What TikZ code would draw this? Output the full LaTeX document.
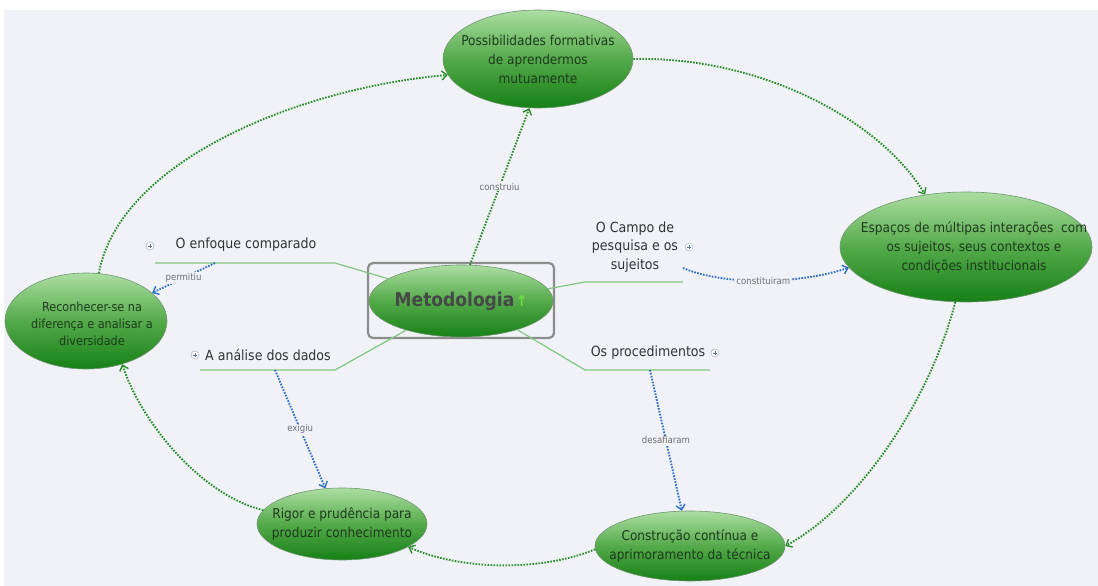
\documentclass[tikz,border=0pt]{standalone}
\usepackage{fontspec}
\setmainfont{DejaVu Sans Condensed}
\usepackage{xcolor}
\usepackage{tikz}
\usetikzlibrary{
  shapes.geometric,
  arrows.meta,
  positioning
}
\definecolor{PanelBg}{RGB}{240, 242, 248}
\definecolor{BubbleTop}{RGB}{172, 222, 162}
\definecolor{BubbleMid}{RGB}{84, 170, 74}
\definecolor{BubbleBottom}{RGB}{22, 128, 22}
\definecolor{BubbleEdge}{RGB}{112, 150, 112}
\definecolor{BubbleText}{RGB}{30, 58, 30}
\definecolor{MetoText}{RGB}{70, 72, 72}
\definecolor{TopicText}{RGB}{51, 51, 51}
\definecolor{BranchGreen}{RGB}{128, 200, 128}
\definecolor{LinkGreen}{RGB}{40, 140, 40}
\definecolor{LinkBlue}{RGB}{45, 110, 200}
\definecolor{LabelGray}{RGB}{110, 110, 110}
\definecolor{FrameGray}{RGB}{140, 140, 140}
\definecolor{IconGreen}{RGB}{110, 222, 60}
\definecolor{IconBlue}{RGB}{90, 110, 150}
\tikzset{
  bubble/.style={ellipse, draw=BubbleEdge, line width=0.6pt,
    top color=BubbleTop, bottom color=BubbleBottom, middle color=BubbleMid,
    inner sep=0pt},
  bubbletext/.style={align=center, text=BubbleText, inner sep=0pt,
    font=\fontsize{13.5}{19}\selectfont},
  metoframe/.style={draw=FrameGray, line width=2.2pt, rounded corners=5pt,
    minimum width=186pt, minimum height=75pt, inner sep=0pt},
  topic/.style={align=center, text=TopicText, inner sep=0pt,
    font=\fontsize{14}{18.5}\selectfont},
  expander/.style={circle, draw=IconBlue!60, fill=white, minimum size=8pt, inner sep=0pt,
    path picture={
      \draw[IconBlue, line width=0.7pt]
        ([xshift=-2.2pt]path picture bounding box.center) -- ([xshift=2.2pt]path picture bounding box.center)
        ([yshift=-2.2pt]path picture bounding box.center) -- ([yshift=2.2pt]path picture bounding box.center);
    }},
  branch/.style={draw=BranchGreen, line width=1.2pt},
  greenlink/.style={draw=LinkGreen, line width=1.9pt, dash pattern=on 1.6pt off 1.4pt,
    -{Straight Barb[length=5pt, width=9pt, line width=1.4pt]}},
  bluelink/.style={draw=LinkBlue, line width=1.9pt, dash pattern=on 1.6pt off 1.4pt,
    -{Straight Barb[length=5pt, width=9pt, line width=1.4pt]}},
  linklabel/.style={fill=PanelBg, text=LabelGray, inner sep=1pt,
    font=\fontsize{9.5}{11}\selectfont}
}

\begin{document}
\begin{tikzpicture}[x=1pt, y=-1pt]
  \fill[white] (0,0) rectangle (1098,586);
  \fill[PanelBg] (4,10) rectangle (1098,586);
  \useasboundingbox (0,0) rectangle (1098,586);

  \node[metoframe] (frame) at (461,300.5) {};
  \node[bubble, minimum width=184pt, minimum height=72pt] (meto) at (461,301) {};
  \node[inner sep=0pt] (metotext) at (meto)
    {\textcolor{MetoText}{\fontsize{19}{22}\selectfont\bfseries Metodologia}\,{\color{IconGreen}\fontsize{15}{15}\selectfont\bfseries ↑}};

  \node[bubble, minimum width=190pt, minimum height=98pt] (possib) at (538,59) {};
  \node[bubbletext] (possibtext) at (possib) {Possibilidades formativas\\de aprendermos\\mutuamente};
  \node[bubble, minimum width=252pt, minimum height=110pt] (espacos) at (966,247) {};
  \node[bubbletext] (espacostext) at ([xshift=8pt]espacos.center) {Espaços de múltipas interações~ com\\os sujeitos, seus contextos e\\condições institucionais};
  \node[bubble, minimum width=162pt, minimum height=96pt] (reconhecer) at (86,321) {};
  \node[bubbletext, font=\fontsize{12.5}{17}\selectfont] (reconhecertext) at ([xshift=6pt, yshift=-3pt]reconhecer.center) {Reconhecer-se na\\diferença e analisar a\\diversidade};
  \node[bubble, minimum width=170pt, minimum height=72pt] (rigor) at (342,524) {};
  \node[bubbletext] (rigortext) at (rigor) {Rigor e prudência para\\produzir conhecimento};
  \node[bubble, minimum width=190pt, minimum height=70pt] (construcao) at (690,546) {};
  \node[bubbletext] (construcaotext) at (construcao) {Construção contínua e\\aprimoramento da técnica};

  \node[topic] (enfoque) at (246,245) {O enfoque comparado};
  \node[expander] (enfoqueplus) at (150,246) {};
  \node[topic] (analise) at (268,355) {A análise dos dados};
  \node[expander] (analiseplus) at (195,355) {};
  \node[topic] (campo) at (635,247) {O Campo de\\pesquisa e os\\sujeitos};
  \node[expander] (campoplus) at (689,247) {};
  \node[topic] (proced) at (648,353) {Os procedimentos};
  \node[expander] (procedplus) at (715,353) {};

  \coordinate (enfoqueR) at (335,263);
  \coordinate (enfoqueL) at (155,263);
  \coordinate (analiseR) at (335,370);
  \coordinate (analiseL) at (200,370);
  \coordinate (campoL) at (585,282);
  \coordinate (campoR) at (683,282);
  \coordinate (procedL) at (585,370);
  \coordinate (procedR) at (710,370);
  \draw[branch] (meto.163) -- (enfoqueR) -- (enfoqueL);
  \draw[branch] (meto.208) -- (analiseR) -- (analiseL);
  \draw[branch] (meto.8) -- (campoL) -- (campoR);
  \draw[branch] (meto.333) -- (procedL) -- (procedR);

  \coordinate (enfoqueTap) at (215,263);
  \coordinate (analiseTap) at (275,370);
  \coordinate (campoTap) at (683,268);
  \coordinate (procedTap) at (650,370);
  \draw[bluelink] (enfoqueTap) -- node[linklabel] {permitiu} (reconhecer.23);
  \draw[bluelink] (campoTap) .. controls (725,286) and (800,284) .. node[linklabel] {constituiram} (espacos.190);
  \draw[bluelink] (analiseTap) -- node[linklabel] {exigiu} (rigor.115);
  \draw[bluelink] (procedTap) -- node[linklabel] {desafiaram} (construcao.103);

  \draw[greenlink] (meto.76) -- node[linklabel] {construiu} (possib.260);
  \draw[greenlink] (possib.east) .. controls (760,56) and (880,120) .. (espacos.128);
  \draw[greenlink] (espacos.259) .. controls (930,400) and (860,505) .. (construcao.east);
  \draw[greenlink] (construcao.182) .. controls (540,572) and (460,570) .. (rigor.-19);
  \draw[greenlink] (rigor.170) .. controls (200,495) and (140,420) .. (reconhecer.-50);
  \draw[greenlink] (reconhecer.75) .. controls (120,160) and (300,88) .. (possib.190);
\end{tikzpicture}
\end{document}
